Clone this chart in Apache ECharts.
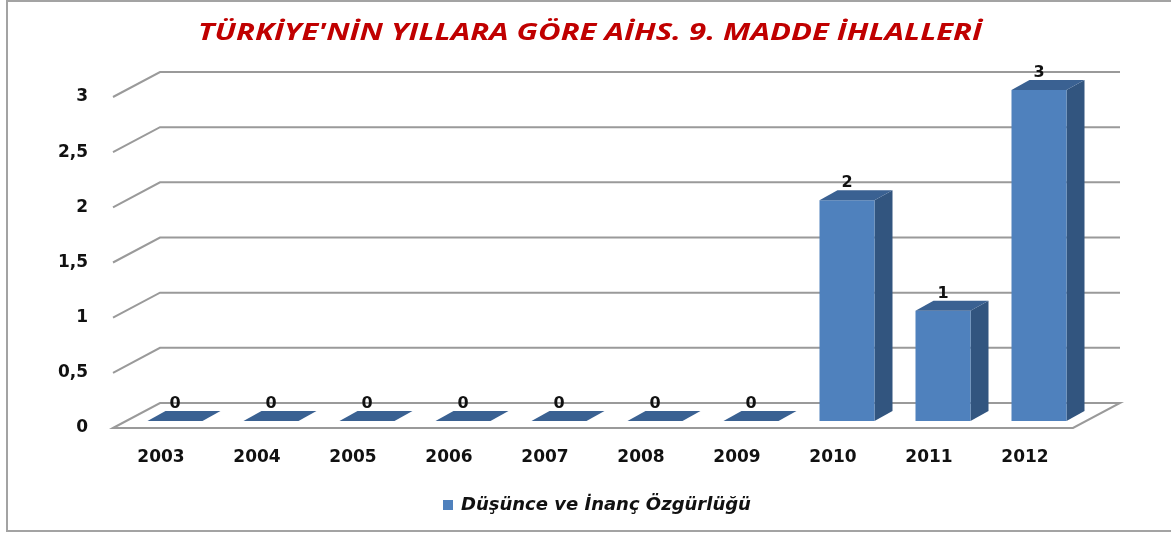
<!DOCTYPE html>
<html>
<head>
<meta charset="utf-8">
<script src="https://cdn.jsdelivr.net/npm/echarts@6/dist/echarts.min.js"></script>
<style>
  html, body { margin: 0; padding: 0; background: #ffffff; }
  #chart { width: 1171px; height: 533px; }
</style>
</head>
<body>
<div id="chart"></div>
<script>
// Yearly counts of Article 9 violations
const years = ['2003', '2004', '2005', '2006', '2007', '2008', '2009', '2010', '2011', '2012'];
const violations = [0, 0, 0, 0, 0, 0, 0, 2, 1, 3];
const yTicks = [0, 0.5, 1, 1.5, 2, 2.5, 3];
const seriesName = 'Düşünce ve İnanç Özgürlüğü';
const titleText = "TÜRKİYE'NİN YILLARA GÖRE AİHS. 9. MADDE İHLALLERİ";

// 3D look: depth of the back wall and of each bar, in pixels
const WALL_DX = 47, WALL_DY = -25;
const BAR_FX = 14, BAR_FY = -7;     // bar front face sits a bit behind the floor edge
const BAR_DX = 18, BAR_DY = -10;    // bar depth
const BAR_RATIO = 0.573;

const FRONT = '#4F81BD', SIDE = '#32557F', TOP = '#3A6192';
const GRID_LINE = '#9a9a9a';

const chart = echarts.init(document.getElementById('chart'), null, { renderer: 'canvas' });

function wallItem(params, api) {
  const cs = params.coordSys;
  const v = api.value(0);
  const y = api.coord([0, v])[1];
  const l = cs.x, r = cs.x + cs.width;
  if (v === 0) {
    return {
      type: 'polygon',
      shape: { points: [[l, y], [l + WALL_DX, y + WALL_DY], [r + WALL_DX, y + WALL_DY], [r, y]] },
      style: { stroke: GRID_LINE, lineWidth: 2, fill: '#ffffff' }
    };
  }
  return {
    type: 'polyline',
    shape: { points: [[l, y], [l + WALL_DX, y + WALL_DY], [r + WALL_DX, y + WALL_DY]] },
    style: { stroke: GRID_LINE, lineWidth: 2, fill: null }
  };
}

function barItem(params, api) {
  const idx = api.value(0);
  const v = api.value(1);
  const base = api.coord([idx, 0]);
  const top = api.coord([idx, v]);
  const band = api.size([1, 0])[0];
  const bw = band * BAR_RATIO;
  const x0 = base[0] - bw / 2 + BAR_FX;
  const x1 = x0 + bw;
  const y0 = base[1] + BAR_FY;
  const y1 = top[1] + BAR_FY;
  const children = [];
  if (y0 - y1 > 0.5) {
    children.push({
      type: 'polygon',
      shape: { points: [[x1, y1], [x1 + BAR_DX, y1 + BAR_DY], [x1 + BAR_DX, y0 + BAR_DY], [x1, y0]] },
      style: { fill: SIDE }
    });
    children.push({
      type: 'rect',
      shape: { x: x0, y: y1, width: bw, height: y0 - y1 },
      style: { fill: FRONT }
    });
  }
  children.push({
    type: 'polygon',
    shape: { points: [[x0, y1], [x0 + BAR_DX, y1 + BAR_DY], [x1 + BAR_DX, y1 + BAR_DY], [x1, y1]] },
    style: { fill: TOP }
  });
  children.push({
    type: 'text',
    style: {
      x: x0 + bw / 2, y: y1 + BAR_DY + 1,
      text: String(v),
      align: 'center', verticalAlign: 'bottom',
      fill: '#111111',
      font: 'bold 16px "DejaVu Sans", sans-serif'
    }
  });
  return { type: 'group', children: children };
}

chart.setOption({
  animation: false,
  backgroundColor: '#ffffff',
  legend: {
    data: [{ name: seriesName, icon: 'rect', itemStyle: { color: FRONT } }],
    left: 438,
    top: 491,
    itemWidth: 10,
    itemHeight: 10,
    itemGap: 8,
    textStyle: {
      fontStyle: 'italic',
      fontWeight: 'bold',
      fontSize: 18,
      color: '#111111',
      fontFamily: 'DejaVu Sans',
      padding: [0, 0, 0, 3]
    }
  },
  grid: { left: 113, right: 98, top: 97, bottom: 105 },
  xAxis: {
    type: 'category',
    data: years,
    axisLine: { show: false },
    axisTick: { show: false },
    axisLabel: {
      margin: 21,
      color: '#111111',
      fontWeight: 'bold',
      fontSize: 17,
      fontFamily: 'DejaVu Sans'
    }
  },
  yAxis: {
    type: 'value',
    min: 0,
    max: 3,
    interval: 0.5,
    axisLine: { show: false },
    axisTick: { show: false },
    splitLine: { show: false },
    axisLabel: {
      margin: 25,
      color: '#111111',
      fontWeight: 'bold',
      fontSize: 17,
      fontFamily: 'DejaVu Sans',
      formatter: (v) => String(v).replace('.', ',')
    }
  },
  graphic: [
    {
      type: 'polyline',
      silent: true,
      shape: { points: [[1171, 1], [7, 1], [7, 531], [1171, 531]] },
      style: { stroke: '#a3a3a3', lineWidth: 2, fill: null }
    },
    {
      // chart title, drawn wide
      type: 'text',
      silent: true,
      x: 590,
      y: 33,
      scaleX: 1.35,
      style: {
        x: 0, y: 0,
        text: titleText,
        align: 'center',
        verticalAlign: 'middle',
        fill: '#C00000',
        font: 'italic bold 23px "Open Sans", sans-serif'
      }
    }
  ],
  series: [
    {
      type: 'custom',
      name: 'walls',
      silent: true,
      renderItem: wallItem,
      data: yTicks.map(v => [v]),
      encode: { y: 0 },
      z: 1
    },
    {
      type: 'custom',
      name: seriesName,
      renderItem: barItem,
      itemStyle: { color: FRONT },
      data: violations.map((v, i) => [i, v]),
      encode: { x: 0, y: 1 },
      z: 2
    }
  ]
});
</script>
</body>
</html>
